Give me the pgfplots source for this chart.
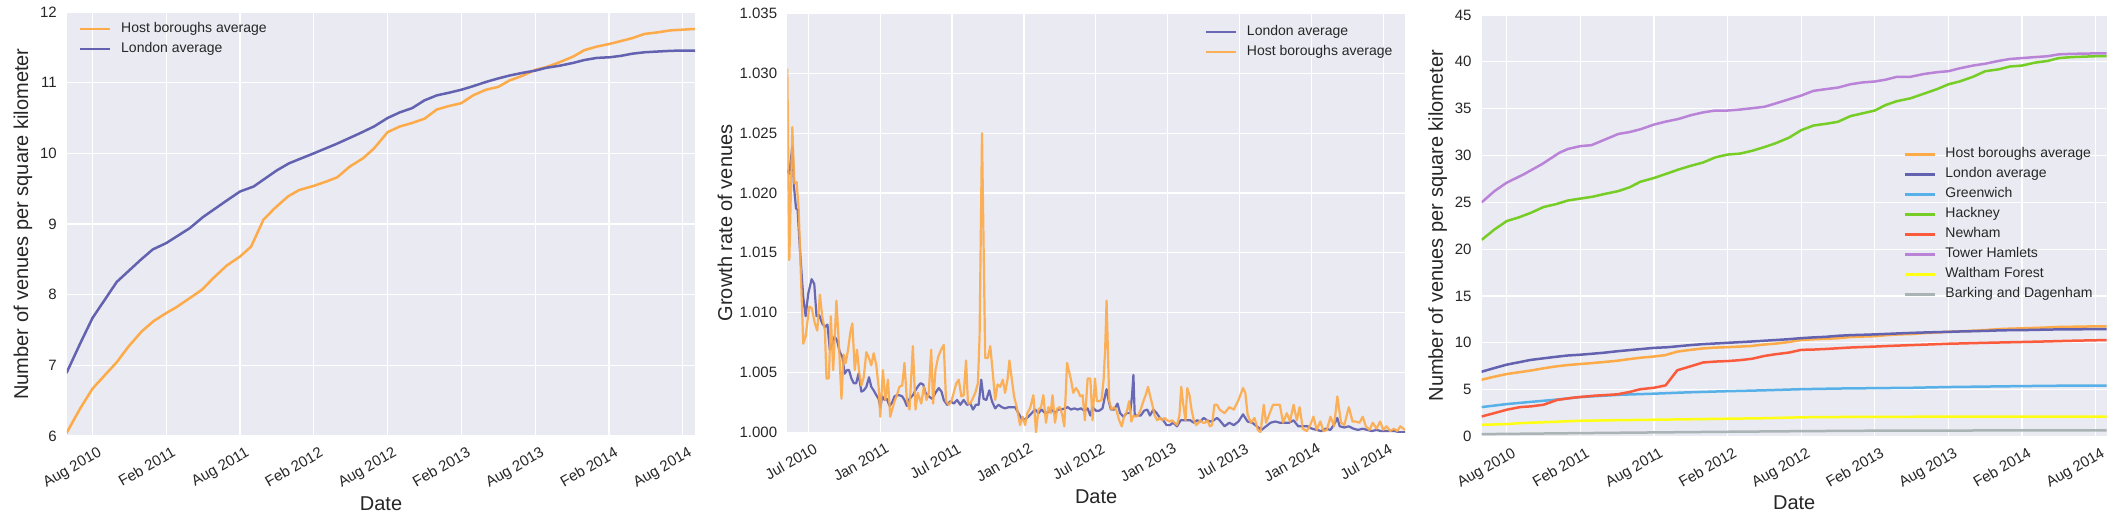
\documentclass[border=0pt]{standalone}
\usepackage{fontspec}
\setmainfont{Liberation Sans}
\usepackage{pgfplots}
\usepackage{pgfplotstable}
\pgfplotsset{compat=1.18}
\definecolor{bg}{HTML}{EAEAF2}
\definecolor{tx}{HTML}{262626}
\definecolor{host}{HTML}{FDAA48}
\definecolor{lon}{HTML}{6262B0}
\definecolor{green1}{HTML}{58B0E8}
\definecolor{hack}{HTML}{76CD26}
\definecolor{newh}{HTML}{FB5B3D}
\definecolor{tower}{HTML}{B984D8}
\definecolor{walt}{HTML}{FFFF14}
\definecolor{bark}{HTML}{AAB4B4}

\pgfplotstableread{
x y
4.88 6.04
6.0 6.39
7.0 6.67
9.0 7.05
9.9 7.26
11.0 7.48
12.0 7.63
13.0 7.74
13.8 7.82
14.9 7.95
15.9 8.07
16.8 8.23
17.9 8.41
19.0 8.54
19.9 8.68
20.9 9.06
21.8 9.22
22.9 9.39
23.8 9.48
25.0 9.54
26.0 9.60
26.9 9.66
27.9 9.81
29.0 9.93
29.9 10.07
31.0 10.30
32.0 10.38
33.0 10.43
34.0 10.49
35.0 10.62
36.0 10.67
37.0 10.71
37.95 10.82
39.0 10.90
40.0 10.94
40.9 11.03
42.0 11.10
43.0 11.18
43.9 11.22
45.0 11.29
46.1 11.37
47.0 11.46
48.0 11.51
49.1 11.55
50.0 11.59
50.9 11.63
51.9 11.69
52.9 11.71
54.0 11.74
55.0 11.75
56.0 11.76
}\hosttab

\pgfplotstableread{
x y
4.88 6.89
6.0 7.31
7.0 7.67
8.97 8.18
10.9 8.49
11.9 8.64
13.0 8.73
14.9 8.94
16.0 9.10
17.9 9.33
19.0 9.46
20.1 9.53
22.0 9.76
23.0 9.86
25.0 10.00
26.8 10.13
28.7 10.28
29.9 10.38
31.0 10.50
32.0 10.58
33.0 10.64
34.0 10.75
35.0 10.82
36.05 10.86
37.0 10.90
37.95 10.95
39.0 11.01
40.0 11.06
40.9 11.10
42.0 11.14
43.0 11.17
43.9 11.21
45.0 11.24
46.1 11.28
47.0 11.32
48.0 11.35
49.1 11.36
50.0 11.38
50.9 11.41
51.9 11.43
52.9 11.44
54.0 11.45
55.0 11.455
56.0 11.455
}\lontab

\pgfplotsset{
  sea/.style={
    scale only axis,
    anchor=south west,
    enlargelimits=false,
    axis background/.style={fill=bg},
    axis line style={draw=none},
    major tick length=0pt,
    grid=major,
    major grid style={white, line width=1.3pt},
    scaled ticks=false,
    tick label style={font=\fontsize{15}{18}\selectfont, text=tx},
    xticklabel style={rotate=30, anchor=north east, inner sep=0pt, yshift=-11pt, xshift=-1pt},
    yticklabel style={anchor=east, inner sep=0pt, xshift=-10pt},
    label style={font=\fontsize{20}{24}\selectfont, text=tx},
    xlabel style={anchor=center},
    ylabel style={anchor=center},
    legend style={draw=none, fill=none, font=\fontsize{14}{17}\selectfont, text=tx,
      inner sep=0pt, row sep=0pt,
      nodes={text height=10pt, text depth=3pt, inner sep=3.5pt},
      /tikz/every odd column/.append style={column sep=6pt}},
    legend cell align=left,
    legend image code/.code={\draw[##1, line cap=butt] (0pt,0pt) -- (30pt,0pt);},
    every axis plot/.append style={line width=2.5pt, mark=none, line join=round},
  }
}

\begin{document}
\begin{tikzpicture}
% ---------------- Panel 1 ----------------
\begin{axis}[sea, at={(67pt,82pt)}, width=628pt, height=424pt,
  xmin=4.925, xmax=56, ymin=6, ymax=12,
  xtick={7,13,19,25,31,37,43,49,55},
  xticklabels={Aug 2010,Feb 2011,Aug 2011,Feb 2012,Aug 2012,Feb 2013,Aug 2013,Feb 2014,Aug 2014},
  ytick={6,7,8,9,10,11,12}, yticklabels={6,7,8,9,10,11,12},
  xlabel={Date}, ylabel={Number of venues per square kilometer},
  xlabel style={at={(axis description cs:0.5,-0.16)}},
  ylabel style={at={(axis description cs:-0.07,0.5)}},
  legend style={at={(0,1)}, anchor=north west, xshift=12pt, yshift=-7pt}]
\addplot[color=host] table {\hosttab};
\addplot[color=lon] table {\lontab};
\legend{Host boroughs average, London average}
\end{axis}

% ---------------- Panel 2 ----------------
\begin{axis}[sea, at={(787.3pt,85.7pt)}, width=617.7pt, height=418.8pt,
  xmin=4.25, xmax=55.81, ymin=1.000, ymax=1.035,
  xtick={6,12,18,24,30,36,42,48,54},
  xticklabels={Jul 2010,Jan 2011,Jul 2011,Jan 2012,Jul 2012,Jan 2013,Jul 2013,Jan 2014,Jul 2014},
  ytick={1.000,1.005,1.010,1.015,1.020,1.025,1.030,1.035},
  yticklabels={1.000,1.005,1.010,1.015,1.020,1.025,1.030,1.035},
  xlabel={Date}, ylabel={Growth rate of venues},
  xlabel style={at={(axis description cs:0.5,-0.155)}},
  ylabel style={at={(axis description cs:-0.101,0.5)}},
  every axis plot/.append style={line width=2.2pt},
  legend style={at={(1,1)}, anchor=north east, xshift=-8.8pt, yshift=-8pt}]
\addplot[color=lon, opacity=0.95] coordinates {
(4.25,1.0219)(4.42,1.0216)(4.67,1.0239)(4.81,1.0205)(4.98,1.0187)(5.11,1.0186)(5.31,1.0152)
(5.58,1.0113)(5.78,1.0097)(6.0,1.0116)(6.28,1.0128)(6.5,1.0124)(6.69,1.0097)(6.91,1.0098)
(7.16,1.0091)(7.39,1.0088)(7.6,1.0090)(7.8,1.0069)(8.02,1.0074)(8.2,1.0080)(8.4,1.0077)
(8.63,1.0067)(8.85,1.0063)(9.04,1.0049)(9.24,1.0052)(9.4,1.0052)(9.6,1.0045)(9.8,1.0041)
(10.0,1.0041)(10.2,1.0049)(10.43,1.0034)(10.63,1.0035)(10.85,1.0038)(11.07,1.0046)
(11.26,1.0038)(11.46,1.0035)(11.68,1.0031)(11.87,1.0028)(12.01,1.0021)(12.18,1.0030)
(12.37,1.0027)(12.56,1.0028)(12.79,1.0022)(13.0,1.0025)(13.2,1.0030)(13.4,1.0031)
(13.6,1.0031)(13.84,1.0030)(14.03,1.0027)(14.23,1.0022)(14.45,1.0028)(14.73,1.0031)
(15.0,1.0036)(15.2,1.0039)(15.37,1.0041)(15.59,1.0040)(15.79,1.0033)(16.06,1.0030)
(16.34,1.0028)(16.62,1.0033)(16.89,1.0037)(17.12,1.0034)(17.31,1.0027)(17.59,1.0023)
(17.86,1.0026)(18.14,1.0024)(18.42,1.0027)(18.69,1.0023)(18.97,1.0027)(19.25,1.0023)
(19.53,1.0024)(19.75,1.0019)(19.99,1.0023)(20.22,1.0023)(20.44,1.0044)(20.63,1.0028)
(20.86,1.0027)(21.11,1.0035)(21.33,1.0026)(21.6,1.0020)(21.88,1.0023)(22.16,1.0021)
(22.43,1.0020)(22.71,1.0021)(22.99,1.0021)(23.27,1.0021)(23.54,1.0016)(23.82,1.0011)
(24.1,1.0011)(24.37,1.0013)(24.65,1.0016)(24.93,1.0019)(25.21,1.0016)(25.48,1.0019)
(25.76,1.0016)(26.04,1.0017)(26.31,1.0019)(26.59,1.0016)(26.87,1.0019)(27.14,1.0019)
(27.42,1.0020)(27.65,1.0021)(27.93,1.0019)(28.21,1.0020)(28.48,1.0019)(28.76,1.0020)
(29.04,1.0018)(29.32,1.0020)(29.54,1.0014)(29.73,1.0021)(30.01,1.0018)(30.28,1.0018)
(30.56,1.0020)(30.76,1.0030)(30.9,1.0036)(31.06,1.0027)(31.26,1.0019)(31.53,1.0019)
(31.81,1.0024)(32.03,1.0016)(32.31,1.0013)(32.58,1.0016)(32.86,1.0016)(33.02,1.0030)
(33.14,1.0048)(33.25,1.0014)(33.48,1.0014)(33.75,1.0014)(34.03,1.0018)(34.3,1.0019)
(34.52,1.0014)(34.8,1.0019)(35.08,1.0016)(35.35,1.0012)(35.63,1.0010)(35.91,1.0006)
(36.18,1.0006)(36.46,1.0008)(36.78,1.0005)(37.08,1.0010)(37.35,1.0010)(37.63,1.0010)
(37.9,1.0010)(38.18,1.0008)(38.46,1.0010)(38.73,1.0009)(39.01,1.0012)(39.29,1.0010)
(39.57,1.0009)(39.84,1.0010)(40.12,1.0012)(40.34,1.0010)(40.75,1.0005)(41.14,1.0008)
(41.52,1.0006)(41.91,1.0009)(42.29,1.0015)(42.67,1.0009)(43.06,1.0008)(43.44,1.0005)
(43.83,1.0002)(44.21,1.0005)(44.59,1.0008)(44.98,1.0009)(45.36,1.0008)(45.75,1.0008)
(46.13,1.0008)(46.51,1.0010)(46.9,1.0005)(47.28,1.0005)(47.67,1.0005)(48.05,1.0003)
(48.44,1.0002)(48.82,1.0001)(49.2,1.0003)(49.59,1.0002)(49.97,1.0008)(50.16,1.0012)
(50.36,1.0005)(50.74,1.0004)(51.12,1.0005)(51.51,1.0003)(51.89,1.0002)(52.28,1.0003)
(52.66,1.0002)(53.04,1.0001)(53.43,1.0002)(53.81,1.0001)(54.2,1.0001)(54.58,1.0001)
(54.96,1.0001)(55.35,1.0000)(55.81,1.0000)
};
\addplot[color=host, opacity=0.9] coordinates {
(4.25,1.0304)(4.42,1.0144)(4.67,1.0255)(4.84,1.0208)(5.03,1.0209)(5.2,1.0186)(5.58,1.0074)
(5.78,1.0080)(6.08,1.0105)(6.28,1.0104)(6.55,1.0091)(6.75,1.0085)(6.97,1.0115)(7.16,1.0097)
(7.39,1.0085)(7.52,1.0045)(7.72,1.0045)(7.88,1.0097)(8.08,1.0052)(8.35,1.0110)(8.58,1.0069)
(8.77,1.0028)(8.96,1.0065)(9.13,1.0058)(9.32,1.0069)(9.52,1.0084)(9.68,1.0091)(9.88,1.0052)
(10.07,1.0069)(10.24,1.0051)(10.43,1.0039)(10.63,1.0046)(10.85,1.0067)(11.07,1.0062)
(11.26,1.0056)(11.46,1.0066)(11.68,1.0056)(11.87,1.0038)(12.01,1.0013)(12.23,1.0052)
(12.43,1.0027)(12.65,1.0044)(12.84,1.0013)(13.0,1.0019)(13.2,1.0026)(13.4,1.0031)
(13.6,1.0038)(13.84,1.0039)(14.03,1.0058)(14.23,1.0027)(14.45,1.0019)(14.73,1.0072)
(14.95,1.0019)(15.14,1.0033)(15.43,1.0024)(15.65,1.0038)(15.87,1.0027)(16.06,1.0033)
(16.26,1.0069)(16.42,1.0024)(16.62,1.0052)(16.84,1.0063)(17.09,1.0069)(17.31,1.0073)
(17.5,1.0026)(17.73,1.0023)(17.95,1.0026)(18.14,1.0033)(18.36,1.0041)(18.56,1.0044)
(18.78,1.0030)(18.97,1.0031)(19.17,1.0060)(19.33,1.0024)(19.53,1.0024)(19.72,1.0028)
(19.94,1.0033)(20.16,1.0041)(20.3,1.0080)(20.5,1.0250)(20.77,1.0062)(20.99,1.0062)
(21.19,1.0072)(21.38,1.0052)(21.6,1.0027)(21.8,1.0040)(22.02,1.0038)(22.24,1.0044)
(22.43,1.0033)(22.63,1.0044)(22.79,1.0060)(22.99,1.0044)(23.18,1.0030)(23.4,1.0021)
(23.68,1.0006)(23.9,1.0013)(24.1,1.0006)(24.29,1.0016)(24.51,1.0020)(24.79,1.0031)
(25.01,1.0000)(25.21,1.0019)(25.43,1.0021)(25.62,1.0031)(25.84,1.0008)(26.04,1.0021)
(26.23,1.0016)(26.39,1.0031)(26.59,1.0008)(26.79,1.0020)(26.99,1.0021)(27.19,1.0015)
(27.37,1.0005)(27.6,1.0058)(27.93,1.0044)(28.12,1.0033)(28.35,1.0037)(28.54,1.0034)
(28.71,1.0030)(28.9,1.0031)(29.09,1.0010)(29.32,1.0045)(29.54,1.0045)(29.73,1.0010)
(29.93,1.0045)(30.09,1.0026)(30.28,1.0026)(30.48,1.0027)(30.65,1.0044)(30.78,1.0069)
(30.9,1.0110)(31.12,1.0026)(31.31,1.0019)(31.53,1.0021)(31.73,1.0018)(31.95,1.0010)
(32.17,1.0005)(32.36,1.0013)(32.58,1.0017)(32.78,1.0026)(32.97,1.0009)(33.14,1.0014)
(33.33,1.0013)(33.53,1.0014)(33.75,1.0019)(33.97,1.0026)(34.16,1.0031)(34.36,1.0038)
(34.52,1.0031)(34.72,1.0023)(34.91,1.0014)(35.13,1.0010)(35.35,1.0012)(35.55,1.0010)
(35.74,1.0012)(35.96,1.0010)(36.18,1.0009)(36.38,1.0010)(36.58,1.0008)(36.78,1.0006)
(36.98,1.0014)(37.13,1.0038)(37.29,1.0024)(37.49,1.0010)(37.63,1.0037)(37.82,1.0031)
(37.99,1.0019)(38.18,1.0010)(38.38,1.0006)(38.57,1.0008)(38.73,1.0010)(38.93,1.0008)
(39.12,1.0008)(39.32,1.0010)(39.51,1.0005)(39.7,1.0006)(39.9,1.0023)(40.12,1.0023)
(40.34,1.0019)(40.75,1.0016)(41.14,1.0021)(41.52,1.0019)(41.91,1.0027)(42.29,1.0037)
(42.48,1.0033)(42.67,1.0015)(42.94,1.0008)(43.25,1.0012)(43.52,1.0002)(43.75,1.0000)
(44.02,1.0023)(44.21,1.0008)(44.52,1.0016)(44.79,1.0023)(45.06,1.0023)(45.36,1.0023)
(45.63,1.0008)(45.94,1.0016)(46.21,1.0009)(46.51,1.0023)(46.78,1.0010)(47.01,1.0021)
(47.28,1.0003)(47.59,1.0001)(47.86,1.0005)(48.17,1.0013)(48.44,1.0002)(48.74,1.0009)
(49.01,1.0001)(49.28,1.0002)(49.59,1.0013)(49.89,1.0005)(50.16,1.0030)(50.47,1.0008)
(50.74,1.0006)(51.12,1.0021)(51.43,1.0009)(51.7,1.0009)(52.01,1.0008)(52.28,1.0013)
(52.54,1.0005)(52.85,1.0002)(53.12,1.0008)(53.43,1.0003)(53.73,1.0009)(54.0,1.0002)
(54.27,1.0005)(54.58,1.0001)(54.89,1.0003)(55.16,1.0001)(55.42,1.0005)(55.81,1.0002)
};
\legend{London average, Host boroughs average}
\end{axis}

% ---------------- Panel 3 ----------------
\begin{axis}[sea, at={(1481.7pt,81.5pt)}, width=625pt, height=421.5pt,
  xmin=4.96, xmax=55.9, ymin=0, ymax=45,
  xtick={7,13,19,25,31,37,43,49,55},
  xticklabels={Aug 2010,Feb 2011,Aug 2011,Feb 2012,Aug 2012,Feb 2013,Aug 2013,Feb 2014,Aug 2014},
  ytick={0,5,10,15,20,25,30,35,40,45}, yticklabels={0,5,10,15,20,25,30,35,40,45},
  xlabel={Date}, ylabel={Number of venues per square kilometer},
  xlabel style={at={(axis description cs:0.5,-0.157)}},
  ylabel style={at={(axis description cs:-0.0704,0.5)}},
  legend style={at={(1,0.5)}, anchor=east, xshift=-10.5pt, yshift=1.3pt}]
\addplot[color=host] table {\hosttab};
\addplot[color=lon] table {\lontab};
\addplot[color=green1] coordinates {
(4.96,3.14)(7,3.46)(9,3.7)(11,3.93)(13,4.21)(16.3,4.46)(19,4.57)(21.7,4.71)(24.5,4.82)
(28,4.93)(31,5.05)(34,5.12)(37,5.16)(40,5.2)(43,5.28)(46,5.33)(49,5.38)(52,5.42)(56,5.44)};
\addplot[color=hack] coordinates {
(4.96,21.0)(6,22.1)(7,23.0)(8,23.4)(9,23.9)(10,24.5)(11,24.8)(12,25.2)(13,25.4)(14,25.6)
(15,25.9)(16.1,26.2)(17,26.6)(17.9,27.2)(19,27.6)(19.9,28.0)(21,28.5)(22,28.9)(23,29.25)
(24,29.8)(25,30.1)(26,30.2)(27,30.5)(28,30.9)(28.9,31.3)(30,31.9)(31,32.7)(32,33.2)
(33.1,33.4)(34,33.6)(35,34.2)(36,34.5)(37,34.8)(37.9,35.4)(38.8,35.8)(39.9,36.1)(41,36.6)
(42.1,37.1)(43,37.6)(43.9,37.9)(45,38.4)(46,39.0)(47.1,39.2)(48,39.5)(49,39.6)(50,39.9)
(51.1,40.1)(52,40.4)(53,40.5)(55,40.6)(56,40.6)};
\addplot[color=newh] coordinates {
(4.96,2.14)(6,2.5)(7,2.86)(8.1,3.14)(9,3.22)(10,3.39)(11.1,3.9)(12.45,4.15)(14.1,4.35)
(16,4.5)(17,4.75)(17.9,5.05)(19,5.2)(19.95,5.46)(20.9,7.07)(22,7.5)(23,7.9)(24,8.0)
(25,8.05)(26,8.15)(27,8.3)(28,8.6)(28.9,8.78)(30,8.96)(31,9.25)(32,9.28)(33.1,9.35)
(34,9.42)(35,9.5)(36,9.55)(37,9.6)(38,9.66)(39,9.71)(43,9.9)(46,10.0)(50.7,10.14)
(53,10.22)(56,10.3)};
\addplot[color=tower] coordinates {
(4.96,25.0)(6,26.2)(7,27.1)(8.4,28.0)(9.9,29.1)(11.3,30.3)(12,30.7)(13,31.0)(13.9,31.1)
(15,31.7)(16.1,32.3)(17,32.5)(17.9,32.8)(19,33.3)(19.9,33.6)(21,33.9)(22,34.3)(23,34.6)
(24,34.8)(25,34.8)(26,34.9)(27,35.05)(28,35.2)(28.9,35.55)(30,36.0)(31,36.4)(32,36.9)
(33.1,37.1)(34,37.25)(35,37.6)(36,37.8)(37,37.9)(37.9,38.1)(38.8,38.4)(39.9,38.4)
(41,38.7)(42.1,38.9)(43,39.0)(43.9,39.3)(45,39.6)(46,39.8)(47.1,40.1)(48,40.3)(49,40.4)
(50,40.5)(51.1,40.6)(52,40.8)(53,40.85)(55,40.9)(56,40.9)};
\addplot[color=walt] coordinates {
(4.96,1.25)(7,1.32)(8.1,1.43)(10,1.52)(13,1.68)(16,1.74)(19,1.79)(22,1.84)(24.5,1.89)
(28,1.95)(31,2.05)(34,2.08)(37,2.1)(45,2.12)(56,2.13)};
\addplot[color=bark] coordinates {
(4.96,0.25)(13,0.36)(24.5,0.5)(31,0.57)(37,0.62)(45,0.64)(56,0.64)};
\legend{Host boroughs average, London average, Greenwich, Hackney, Newham, Tower Hamlets, Waltham Forest, Barking and Dagenham}
\end{axis}

\pgfresetboundingbox
\path[use as bounding box] (0pt,0pt) rectangle (2126pt,518pt);
\end{tikzpicture}
\end{document}
